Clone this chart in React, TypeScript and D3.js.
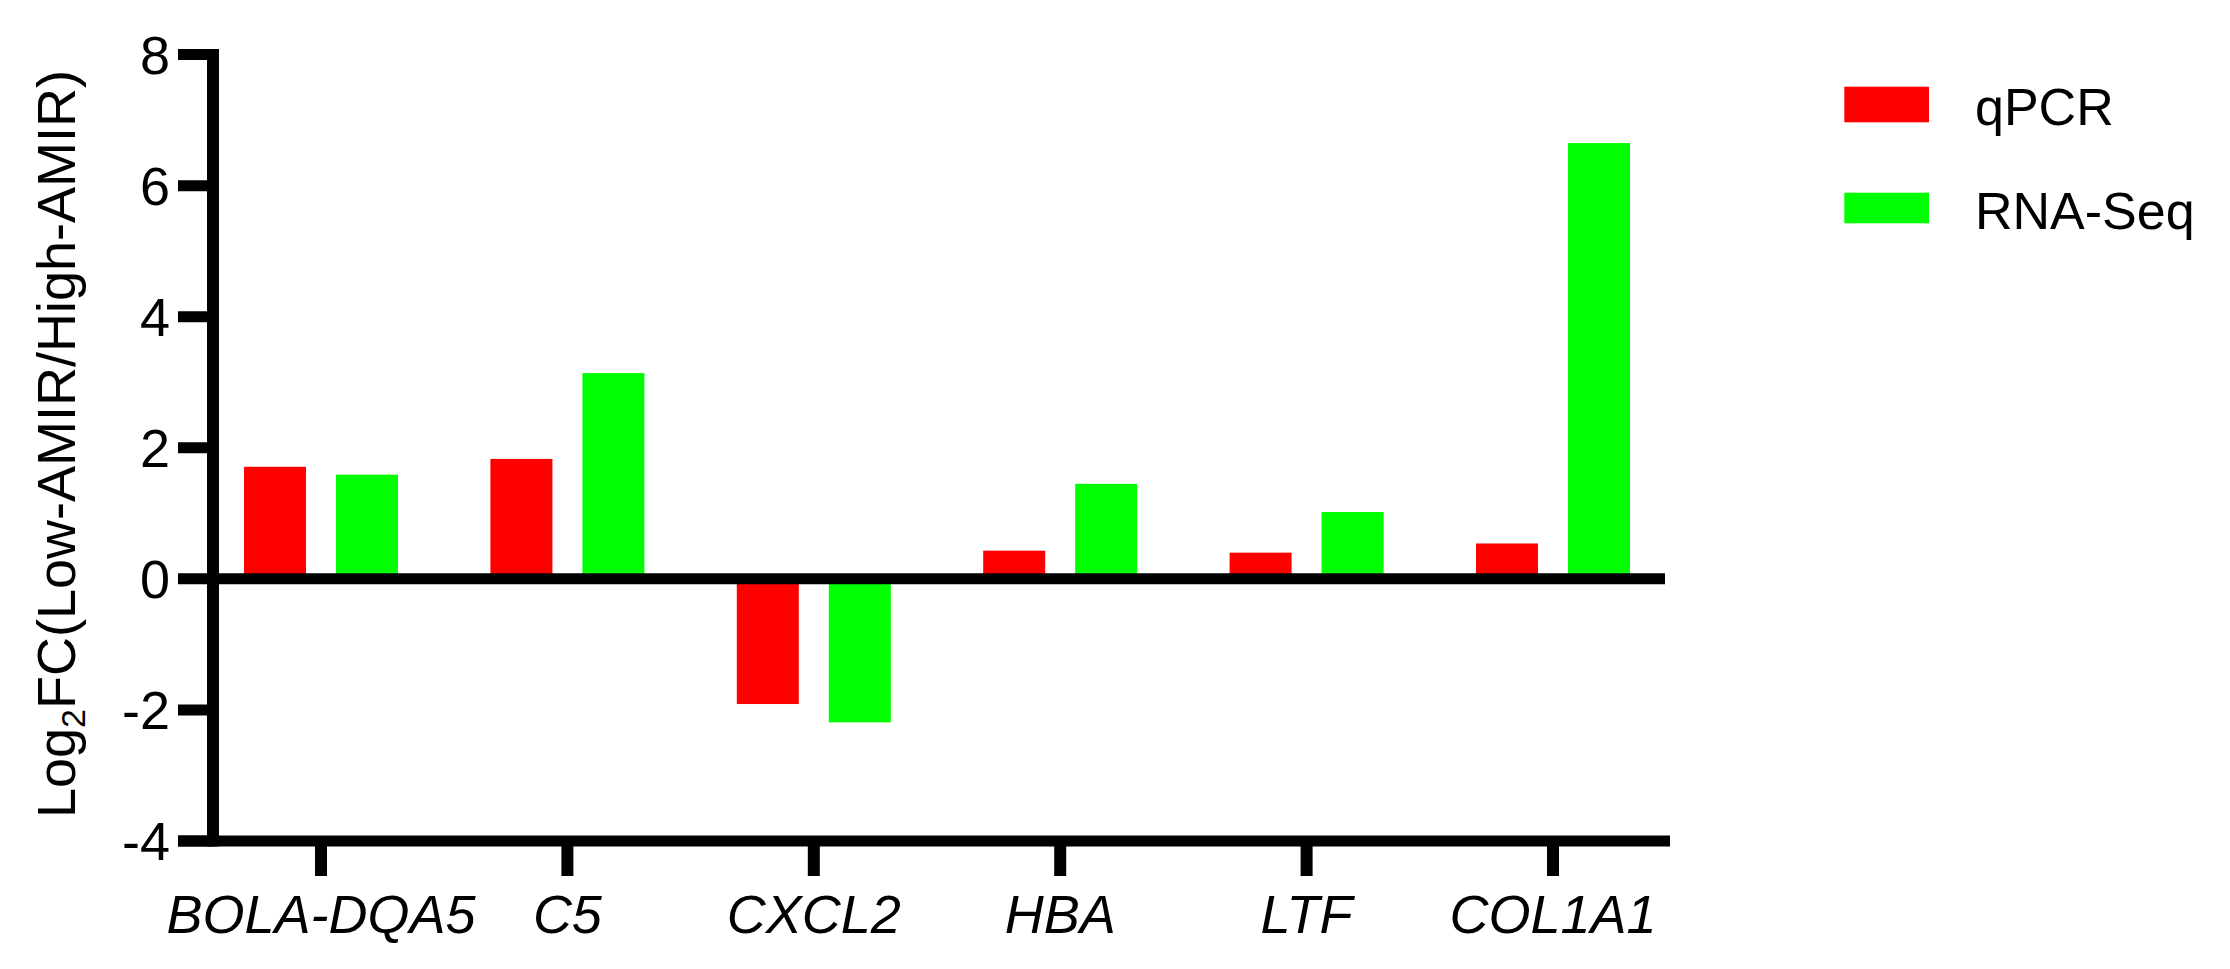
import React from "react";
import * as d3 from "d3";

const categories = ["BOLA-DQA5", "C5", "CXCL2", "HBA", "LTF", "COL1A1"];
const qPCR = [1.71, 1.83, -1.91, 0.43, 0.4, 0.54];
const rnaSeq = [1.59, 3.14, -2.19, 1.45, 1.02, 6.65];
const seriesNames = ["qPCR", "RNA-Seq"];
const seriesColors = ["#FF0000", "#00FF00"];
const yTicks = [-4, -2, 0, 2, 4, 6, 8];

const W = 2230;
const H = 969;
const FONT = "'Liberation Sans', Arial, Helvetica, sans-serif";
const LW = 11;

export default function App() {
  const x = d3.scaleBand<string>().domain(categories).range([197.8, 1676.2]).padding(0);
  const inner = d3.scaleBand<string>().domain(seriesNames).range([-77, 77]).paddingInner(0.326).paddingOuter(0);
  const y = d3.scaleLinear().domain([-4, 8]).range([841, 54.6]);
  const series = [qPCR, rnaSeq];
  const axisX = 213;
  const cx = (c: string) => (x(c) as number) + x.bandwidth() / 2;

  const legendRows = [
    { yTop: 86.7, h: 35.6, base: 125 },
    { yTop: 192.7, h: 30.6, base: 228.5 },
  ];

  return (
    <svg width={W} height={H} style={{ position: "absolute", left: 0, top: 0, background: "#fff" }} fontFamily={FONT}>
      <rect x={0} y={0} width={W} height={H} fill="#fff" />
      {/* bars */}
      {series.map((vals, si) =>
        categories.map((c, i) => {
          const v = vals[i];
          const x0 = cx(c) + (inner(seriesNames[si]) as number);
          const y0 = Math.min(y(v), y(0));
          const hh = Math.abs(y(v) - y(0));
          return <rect key={si + "-" + c} x={x0} y={y0} width={inner.bandwidth()} height={hh} fill={seriesColors[si]} />;
        })
      )}
      {/* zero line */}
      <line x1={axisX} x2={1665} y1={y(0)} y2={y(0)} stroke="#000" strokeWidth={LW} />
      {/* y axis */}
      <line x1={axisX} x2={axisX} y1={y(8) - LW / 2} y2={y(-4) + LW / 2} stroke="#000" strokeWidth={LW + 1} />
      {yTicks.map((t) => (
        <g key={t}>
          <line x1={178} x2={axisX} y1={y(t)} y2={y(t)} stroke="#000" strokeWidth={LW} />
          <text x={170} y={y(t) + 19} textAnchor="end" fontSize={54} fill="#000">
            {t}
          </text>
        </g>
      ))}
      {/* x axis at bottom */}
      <line x1={178} x2={1670} y1={y(-4)} y2={y(-4)} stroke="#000" strokeWidth={LW} />
      {categories.map((c) => (
        <g key={c}>
          <line x1={cx(c)} x2={cx(c)} y1={y(-4)} y2={876} stroke="#000" strokeWidth={LW + 1} />
          <text x={cx(c)} y={932.5} textAnchor="middle" fontSize={54} fontStyle="italic" fill="#000">
            {c}
          </text>
        </g>
      ))}
      {/* y title */}
      <text transform={`translate(75,444) rotate(-90)`} textAnchor="middle" fontSize={54} fill="#000">
        <tspan>Log</tspan>
        <tspan fontSize={34} dy={10}>2</tspan>
        <tspan dy={-10}>FC(Low-AMIR/High-AMIR)</tspan>
      </text>
      {/* legend */}
      {seriesNames.map((s, i) => (
        <g key={s}>
          <rect x={1844.3} y={legendRows[i].yTop} width={84.7} height={legendRows[i].h} fill={seriesColors[i]} />
          <text x={1975} y={legendRows[i].base} fontSize={52} fill="#000">
            {s}
          </text>
        </g>
      ))}
    </svg>
  );
}
